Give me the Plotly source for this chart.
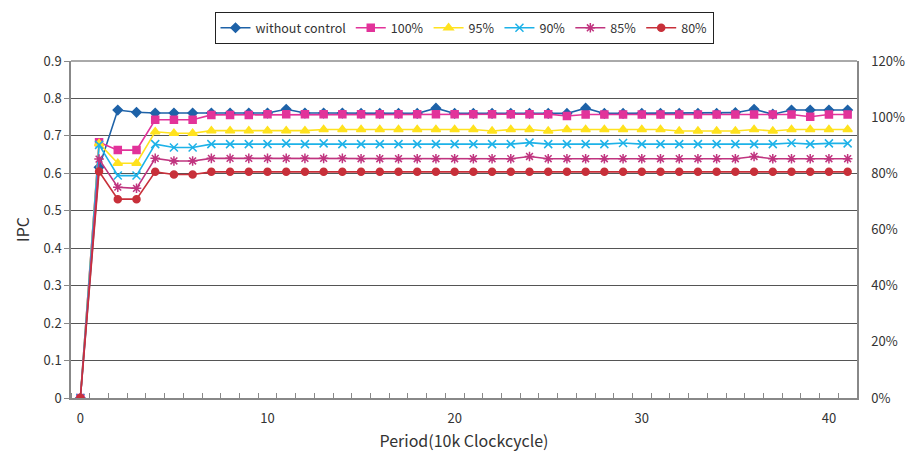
import plotly.graph_objects as go

periods = list(range(42))

without_control = [0, 0.616, 0.769, 0.763, 0.761, 0.761, 0.761, 0.761, 0.761, 0.761,
                   0.761, 0.771, 0.761, 0.761, 0.761, 0.760, 0.760, 0.760, 0.760, 0.774,
                   0.760, 0.760, 0.760, 0.760, 0.760, 0.760, 0.760, 0.774, 0.760, 0.760,
                   0.760, 0.760, 0.760, 0.760, 0.760, 0.762, 0.771, 0.758, 0.769, 0.769,
                   0.769, 0.769]
p100 = [0, 0.683, 0.662, 0.662, 0.743, 0.743, 0.743, 0.756, 0.756, 0.756,
        0.758, 0.758, 0.758, 0.758, 0.758, 0.758, 0.758, 0.758, 0.758, 0.758,
        0.758, 0.758, 0.758, 0.758, 0.758, 0.758, 0.753, 0.757, 0.757, 0.757,
        0.757, 0.757, 0.757, 0.757, 0.757, 0.757, 0.757, 0.757, 0.757, 0.751,
        0.757, 0.757]
p95 = [0, 0.680, 0.627, 0.627, 0.711, 0.707, 0.707, 0.714, 0.714, 0.714,
       0.714, 0.714, 0.714, 0.717, 0.717, 0.717, 0.717, 0.717, 0.717, 0.717,
       0.717, 0.717, 0.713, 0.717, 0.717, 0.713, 0.717, 0.717, 0.717, 0.717,
       0.717, 0.717, 0.713, 0.713, 0.713, 0.713, 0.717, 0.713, 0.717, 0.717,
       0.717, 0.717]
p90 = [0, 0.676, 0.594, 0.594, 0.678, 0.669, 0.669, 0.678, 0.678, 0.678,
       0.678, 0.680, 0.678, 0.680, 0.678, 0.678, 0.678, 0.678, 0.678, 0.678,
       0.678, 0.678, 0.678, 0.678, 0.682, 0.678, 0.678, 0.678, 0.678, 0.681,
       0.678, 0.678, 0.678, 0.678, 0.678, 0.678, 0.678, 0.678, 0.681, 0.678,
       0.680, 0.680]
p85 = [0, 0.638, 0.563, 0.560, 0.640, 0.633, 0.633, 0.640, 0.640, 0.640,
       0.640, 0.640, 0.640, 0.640, 0.640, 0.639, 0.639, 0.639, 0.639, 0.639,
       0.639, 0.639, 0.639, 0.639, 0.645, 0.639, 0.639, 0.639, 0.639, 0.639,
       0.639, 0.639, 0.639, 0.639, 0.639, 0.639, 0.645, 0.639, 0.639, 0.639,
       0.639, 0.639]
p80 = [0, 0.605, 0.531, 0.531, 0.604, 0.597, 0.597, 0.604, 0.604, 0.604,
       0.604, 0.604, 0.604, 0.604, 0.604, 0.604, 0.604, 0.604, 0.604, 0.604,
       0.604, 0.604, 0.604, 0.604, 0.604, 0.604, 0.604, 0.604, 0.604, 0.604,
       0.604, 0.604, 0.604, 0.604, 0.604, 0.604, 0.604, 0.604, 0.604, 0.604,
       0.604, 0.604]

series_names = ["without control", "100%", "95%", "90%", "85%", "80%"]
left_ticks = [0, 0.1, 0.2, 0.3, 0.4, 0.5, 0.6, 0.7, 0.8, 0.9]
left_labels = ["0", "0.1", "0.2", "0.3", "0.4", "0.5", "0.6", "0.7", "0.8", "0.9"]
right_ticks = [0, 0.2, 0.4, 0.6, 0.8, 1.0, 1.2]
right_labels = ["0%", "20%", "40%", "60%", "80%", "100%", "120%"]
x_ticks = [0, 10, 20, 30, 40]

series = [without_control, p100, p95, p90, p85, p80]
colors = ["#1E62A8", "#E2339A", "#FFE21F", "#1DB2E8", "#C0347F", "#C8303A"]
symbols = ["diamond", "square", "triangle-up", "x-thin-open", "asterisk-open", "circle"]
sizes = [7, 7, 8, 8, 8, 7]

FONT = "Noto Sans CJK JP, Liberation Sans, sans-serif"

fig = go.Figure()
for name, ys, c, s, sz in zip(series_names, series, colors, symbols, sizes):
    fig.add_trace(go.Scatter(
        x=periods, y=ys, name=name, mode="lines+markers",
        line=dict(color=c, width=1.6),
        marker=dict(symbol=s, size=sz, color=c, line=dict(color=c, width=1.5)),
    ))

# invisible trace for secondary axis
fig.add_trace(go.Scatter(x=[periods[0]], y=[0], yaxis="y2", showlegend=False,
                         mode="markers", marker=dict(opacity=0), hoverinfo="skip"))

fig.update_layout(
    width=906, height=452,
    paper_bgcolor="white", plot_bgcolor="white",
    margin=dict(l=71, r=49, t=61, b=54, autoexpand=False),
    font=dict(family=FONT, size=13, color="#333333"),
    showlegend=True,
    legend=dict(orientation="h", x=0.5, xanchor="center", y=1.145, yanchor="top",
                bordercolor="#222222", borderwidth=1, font=dict(size=12.5),
                itemwidth=30, tracegroupgap=0),
    xaxis=dict(range=[-0.5, 41.5], tickvals=x_ticks, ticks="", showgrid=False,
               zeroline=False, showline=True, linecolor="#888888", linewidth=1.5,
               automargin=False,
               title=dict(text="Period(10k Clockcycle)", standoff=10),
               minor=dict(ticks="inside", tick0=0.5, dtick=1, ticklen=5,
                          tickcolor="#888888", showgrid=False),
               ticklabelstandoff=8),
    yaxis=dict(range=[0, 0.9], tickvals=left_ticks, ticktext=left_labels,
               showgrid=True, gridcolor="#555555", gridwidth=1,
               zeroline=False, showline=True, linecolor="#888888", linewidth=1.5,
               ticks="outside", ticklen=5, tickcolor="#888888", automargin=False,
               title=dict(text="IPC", standoff=10)),
    yaxis2=dict(range=[0, 1.2], tickvals=right_ticks, ticktext=right_labels,
                overlaying="y", side="right", showgrid=False, zeroline=False,
                showline=True, linecolor="#888888", linewidth=1.5, ticks="",
                automargin=False, ticklabelstandoff=10),
)
fig.add_shape(type="line", xref="paper", yref="paper", x0=0, x1=1, y0=1, y1=1,
              line=dict(color="#555555", width=1))

fig.write_html("out.html", config={"displayModeBar": False},
               post_script="document.body.style.margin='0';document.body.style.padding='0';")
